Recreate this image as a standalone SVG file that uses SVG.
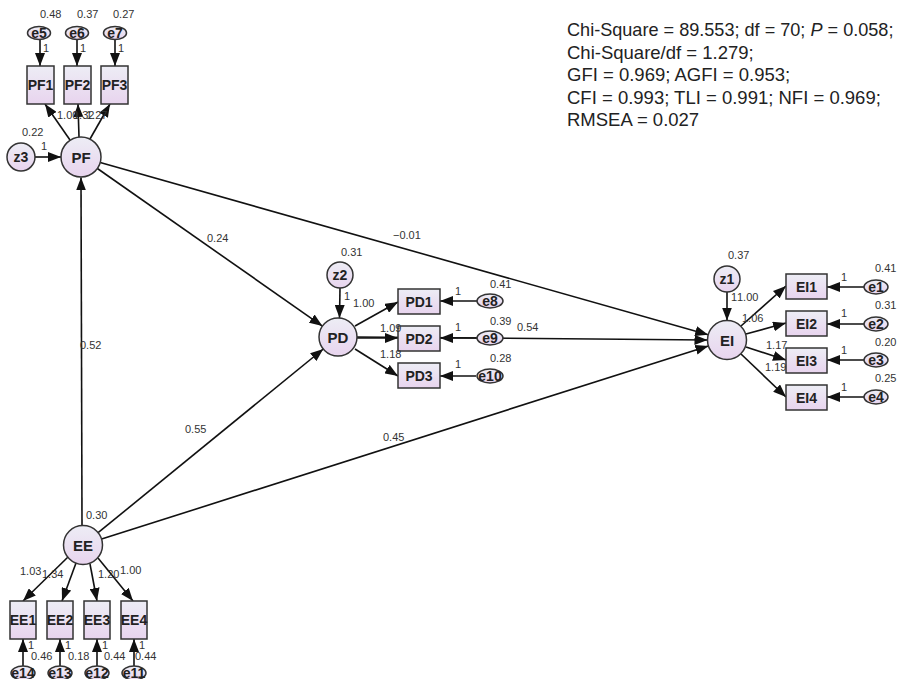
<svg xmlns="http://www.w3.org/2000/svg" width="897" height="679" viewBox="0 0 897 679">
<defs>
<linearGradient id="g" x1="0" y1="0" x2="0" y2="1">
<stop offset="0" stop-color="#ededf5"/>
<stop offset="1" stop-color="#e8d4ee"/>
</linearGradient>
<marker id="a" markerUnits="userSpaceOnUse" markerWidth="14" markerHeight="10" refX="13" refY="5" orient="auto">
<path d="M0,0 L13,5 L0,10 z" fill="#111"/>
</marker>
<style>
.n{fill:url(#g);stroke:#333;stroke-width:1.5}
.nl{font-family:"Liberation Sans",Arial,sans-serif;font-weight:bold;font-size:14px;text-anchor:middle;fill:#222}
.cl{font-family:"Liberation Sans",Arial,sans-serif;font-weight:bold;font-size:15px;text-anchor:middle;fill:#222}
.el{font-family:"Liberation Sans",Arial,sans-serif;font-size:11px;fill:#333}
.c{stroke:#111;stroke-width:1.6;fill:none;marker-end:url(#a)}
.fit{font-family:"Liberation Sans",Arial,sans-serif;font-size:18.5px;fill:#222}
</style>
</defs>
<rect width="897" height="679" fill="#fff"/>

<g id="connectors">
<path class="c" d="M35,157 L61,157"/>
<path class="c" d="M40,40 L40,66"/>
<path class="c" d="M77,40 L77,66"/>
<path class="c" d="M115,40 L115,66"/>
<path class="c" d="M70,140 L45,104"/>
<path class="c" d="M79,137 L78,104"/>
<path class="c" d="M90,139 L110,104"/>
<path class="c" d="M82,525 L81,177.5"/>
<path class="c" d="M97.4,168.5 L322.4,326.1"/>
<path class="c" d="M100.2,162.5 L708.2,334.7"/>
<path class="c" d="M98.1,532.7 L323.3,349"/>
<path class="c" d="M101.6,539.1 L708.4,345.9"/>
<path class="c" d="M357,337 L707.5,340"/>
<path class="c" d="M340,288 L339.5,318"/>
<path class="c" d="M355,326 L398,302"/>
<path class="c" d="M357,338 L398,338"/>
<path class="c" d="M355,349 L398,376"/>
<path class="c" d="M477,301 L440,301"/>
<path class="c" d="M477,338 L440,338"/>
<path class="c" d="M476,376 L440,376"/>
<path class="c" d="M727,292 L727,320.5"/>
<path class="c" d="M741,326 L786,286"/>
<path class="c" d="M746,334 L786,323"/>
<path class="c" d="M746,347 L786,360"/>
<path class="c" d="M741,354 L786,397"/>
<path class="c" d="M864,287 L827,287"/>
<path class="c" d="M864,324 L827,324"/>
<path class="c" d="M864,360 L827,360"/>
<path class="c" d="M864,397 L827,397"/>
<path class="c" d="M68,557 L23,601"/>
<path class="c" d="M76,563 L62,601"/>
<path class="c" d="M90,564 L97,601"/>
<path class="c" d="M98,558 L133,601"/>
<path class="c" d="M23,666 L23,639"/>
<path class="c" d="M60,666 L60,639"/>
<path class="c" d="M97,666 L97,639"/>
<path class="c" d="M134,666 L134,639"/>
</g>

<g id="PF"><circle class="n" cx="81" cy="157" r="20"/><text class="cl" x="81" y="162.5">PF</text></g>
<g id="z3"><circle class="n" cx="21" cy="157" r="14"/><text class="nl" x="21" y="162">z3</text></g>
<g id="PF1"><rect class="n" x="27" y="66" width="27" height="38"/><text class="nl" x="40.5" y="90">PF1</text></g>
<g id="PF2"><rect class="n" x="64" y="66" width="27" height="38"/><text class="nl" x="77.5" y="90">PF2</text></g>
<g id="PF3"><rect class="n" x="101" y="66" width="27" height="38"/><text class="nl" x="114.5" y="90">PF3</text></g>
<g id="e5"><ellipse class="n" cx="39" cy="33" rx="11.5" ry="6.5"/><text class="nl" x="39" y="38">e5</text></g>
<g id="e6"><ellipse class="n" cx="77" cy="33" rx="11.5" ry="6.5"/><text class="nl" x="77" y="38">e6</text></g>
<g id="e7"><ellipse class="n" cx="115" cy="33" rx="11.5" ry="6.5"/><text class="nl" x="115" y="38">e7</text></g>

<g id="PD"><circle class="n" cx="338" cy="337" r="19"/><text class="cl" x="338" y="342.5">PD</text></g>
<g id="z2"><circle class="n" cx="340" cy="275" r="13"/><text class="nl" x="340" y="280">z2</text></g>
<g id="PD1"><rect class="n" x="398" y="289" width="42" height="25"/><text class="nl" x="419" y="306.5">PD1</text></g>
<g id="PD2"><rect class="n" x="398" y="326" width="42" height="25"/><text class="nl" x="419" y="343.5">PD2</text></g>
<g id="PD3"><rect class="n" x="398" y="363" width="42" height="25"/><text class="nl" x="419" y="380.5">PD3</text></g>
<g id="e8"><ellipse class="n" cx="490" cy="301" rx="13" ry="7"/><text class="nl" x="490" y="306">e8</text></g>
<g id="e9"><ellipse class="n" cx="490" cy="338" rx="13" ry="7"/><text class="nl" x="490" y="343">e9</text></g>
<g id="e10"><ellipse class="n" cx="490" cy="376" rx="13" ry="7"/><text class="nl" x="490" y="381">e10</text></g>

<g id="EI"><circle class="n" cx="727" cy="340" r="19.5"/><text class="cl" x="727" y="345.5">EI</text></g>
<g id="z1"><circle class="n" cx="727" cy="279" r="13"/><text class="nl" x="727" y="284">z1</text></g>
<g id="EI1"><rect class="n" x="786" y="274" width="41" height="25"/><text class="nl" x="806.5" y="291.5">EI1</text></g>
<g id="EI2"><rect class="n" x="786" y="311" width="41" height="25"/><text class="nl" x="806.5" y="328.5">EI2</text></g>
<g id="EI3"><rect class="n" x="786" y="348" width="41" height="25"/><text class="nl" x="806.5" y="365.5">EI3</text></g>
<g id="EI4"><rect class="n" x="786" y="385" width="41" height="25"/><text class="nl" x="806.5" y="402.5">EI4</text></g>
<g id="e1"><ellipse class="n" cx="876" cy="287" rx="12" ry="7"/><text class="nl" x="876" y="292">e1</text></g>
<g id="e2"><ellipse class="n" cx="876" cy="324" rx="12" ry="7"/><text class="nl" x="876" y="329">e2</text></g>
<g id="e3"><ellipse class="n" cx="876" cy="360" rx="12" ry="7"/><text class="nl" x="876" y="365">e3</text></g>
<g id="e4"><ellipse class="n" cx="876" cy="397" rx="12" ry="7"/><text class="nl" x="876" y="402">e4</text></g>

<g id="EE"><circle class="n" cx="83" cy="545" r="19.5"/><text class="cl" x="83" y="550.5">EE</text></g>
<g id="EE1"><rect class="n" x="10" y="601" width="26" height="38"/><text class="nl" x="23" y="625">EE1</text></g>
<g id="EE2"><rect class="n" x="47" y="601" width="26" height="38"/><text class="nl" x="60" y="625">EE2</text></g>
<g id="EE3"><rect class="n" x="84" y="601" width="26" height="38"/><text class="nl" x="97" y="625">EE3</text></g>
<g id="EE4"><rect class="n" x="121" y="601" width="26" height="38"/><text class="nl" x="134" y="625">EE4</text></g>
<g id="e14"><ellipse class="n" cx="23" cy="673" rx="12" ry="7"/><text class="nl" x="23" y="678">e14</text></g>
<g id="e13"><ellipse class="n" cx="60" cy="673" rx="12" ry="7"/><text class="nl" x="60" y="678">e13</text></g>
<g id="e12"><ellipse class="n" cx="97" cy="673" rx="12" ry="7"/><text class="nl" x="97" y="678">e12</text></g>
<g id="e11"><ellipse class="n" cx="134" cy="673" rx="12" ry="7"/><text class="nl" x="134" y="678">e11</text></g>

<g id="labels">
<text class="el" x="40" y="18">0.48</text>
<text class="el" x="77" y="18">0.37</text>
<text class="el" x="113" y="18">0.27</text>
<text class="el" x="43" y="52">1</text>
<text class="el" x="80" y="52">1</text>
<text class="el" x="118" y="52">1</text>
<text class="el" x="57" y="119">1.00</text>
<text class="el" x="73" y="119">1.32</text>
<text class="el" x="86" y="119">1.27</text>
<text class="el" x="22" y="136">0.22</text>
<text class="el" x="41" y="150">1</text>
<text class="el" x="207" y="242">0.24</text>
<text class="el" x="393" y="239">−0.01</text>
<text class="el" x="80" y="349">0.52</text>
<text class="el" x="185" y="433">0.55</text>
<text class="el" x="383" y="441">0.45</text>
<text class="el" x="517" y="331">0.54</text>
<text class="el" x="341" y="256">0.31</text>
<text class="el" x="344" y="300">1</text>
<text class="el" x="353" y="307">1.00</text>
<text class="el" x="380" y="332">1.09</text>
<text class="el" x="380" y="358">1.18</text>
<text class="el" x="455" y="295">1</text>
<text class="el" x="455" y="331">1</text>
<text class="el" x="455" y="368">1</text>
<text class="el" x="490" y="288">0.41</text>
<text class="el" x="490" y="325">0.39</text>
<text class="el" x="490" y="362">0.28</text>
<text class="el" x="728" y="259">0.37</text>
<text class="el" x="731" y="301">1</text>
<text class="el" x="737" y="301">1.00</text>
<text class="el" x="742" y="322">1.06</text>
<text class="el" x="766" y="349">1.17</text>
<text class="el" x="765" y="371">1.19</text>
<text class="el" x="841" y="281">1</text>
<text class="el" x="841" y="317">1</text>
<text class="el" x="841" y="354">1</text>
<text class="el" x="841" y="391">1</text>
<text class="el" x="875" y="272">0.41</text>
<text class="el" x="875" y="309">0.31</text>
<text class="el" x="875" y="346">0.20</text>
<text class="el" x="875" y="382">0.25</text>
<text class="el" x="86" y="519">0.30</text>
<text class="el" x="20" y="575">1.03</text>
<text class="el" x="42" y="578">1.34</text>
<text class="el" x="98" y="578">1.20</text>
<text class="el" x="120" y="574">1.00</text>
<text class="el" x="28" y="649">1</text>
<text class="el" x="65" y="649">1</text>
<text class="el" x="102" y="649">1</text>
<text class="el" x="139" y="649">1</text>
<text class="el" x="31" y="660">0.46</text>
<text class="el" x="68" y="660">0.18</text>
<text class="el" x="104" y="660">0.44</text>
<text class="el" x="135" y="660">0.44</text>
</g>

<g id="fit">
<text class="fit" x="567" y="36" style="font-size:18.1px">Chi-Square = 89.553; df = 70; <tspan font-style="italic">P</tspan> = 0.058;</text>
<text class="fit" x="567" y="58.5">Chi-Square/df = 1.279;</text>
<text class="fit" x="567" y="81">GFI = 0.969; AGFI =  0.953;</text>
<text class="fit" x="567" y="103.5">CFI = 0.993; TLI = 0.991; NFI = 0.969;</text>
<text class="fit" x="567" y="126">RMSEA = 0.027</text>
</g>
</svg>
